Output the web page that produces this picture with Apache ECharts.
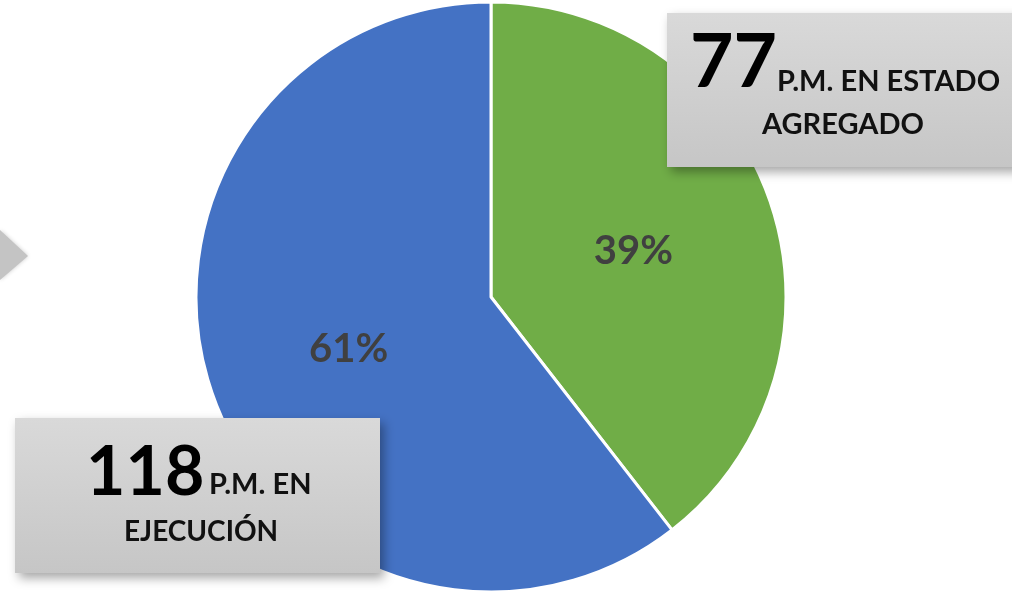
<!DOCTYPE html>
<html>
<head>
<meta charset="utf-8">
<script src="https://cdn.jsdelivr.net/npm/echarts@6/dist/echarts.min.js"></script>
<style>
  html, body { margin: 0; padding: 0; background: #fff; }
  #chart { width: 1012px; height: 591px; }
</style>
</head>
<body>
<div id="chart"></div>
<script>
// estados de los P.M.
var categories = ['P.M. EN ESTADO AGREGADO', 'P.M. EN EJECUCIÓN'];
var values = [77, 118];
var colors = ['#70AD47', '#4472C4'];

var font = 'Lato, "Open Sans", sans-serif';

function box(x, y, w, h) {
  return {
    type: 'rect',
    shape: { x: x, y: y, width: w, height: h },
    style: {
      fill: new echarts.graphic.LinearGradient(0, 0, 0, 1, [
        { offset: 0, color: '#d9d9d9' },
        { offset: 1, color: '#c6c6c6' }
      ]),
      shadowBlur: 10,
      shadowOffsetX: 4,
      shadowOffsetY: 5,
      shadowColor: 'rgba(0,0,0,0.35)'
    },
    z: 10
  };
}

function txt(x, y, text, size, color) {
  return {
    type: 'text',
    x: x,
    y: y,
    style: {
      text: text,
      font: 'bold ' + size + 'px ' + font,
      fill: color,
      textAlign: 'left',
      textVerticalAlign: 'middle'
    },
    z: 11
  };
}

var chart = echarts.init(document.getElementById('chart'));
chart.setOption({
  backgroundColor: '#ffffff',
  animation: false,
  series: [
    {
      type: 'pie',
      center: [491, 297],
      radius: [0, 295],
      startAngle: 90,
      clockwise: true,
      itemStyle: { borderColor: '#ffffff', borderWidth: 3 },
      label: {
        show: true,
        position: 'inside',
        offset: [0, 3],
        formatter: function (p) { return Math.round(p.percent) + '%'; },
        color: '#404040',
        fontFamily: font,
        fontWeight: 'bold',
        fontSize: 40
      },
      labelLine: { show: false },
      data: categories.map(function (c, i) {
        return { name: c, value: values[i], itemStyle: { color: colors[i] } };
      })
    }
  ],
  graphic: [
    {
      type: 'polygon',
      shape: { points: [[0, 230], [28, 256], [0, 280]] },
      style: { fill: '#c4c4c4', shadowBlur: 4, shadowColor: 'rgba(0,0,0,0.2)' },
      z: 5
    },
    box(667, 13, 360, 154),
    txt(690, 63, String(values[0]), 75, '#000000'),
    txt(777, 82, 'P.M. EN ESTADO', 29, '#111111'),
    txt(762, 125, 'AGREGADO', 29, '#111111'),
    box(15, 418, 365, 155),
    txt(86, 473, String(values[1]), 68, '#000000'),
    txt(209, 485, 'P.M. EN', 29, '#111111'),
    txt(124, 532, 'EJECUCIÓN', 28, '#111111')
  ]
});
</script>
</body>
</html>
